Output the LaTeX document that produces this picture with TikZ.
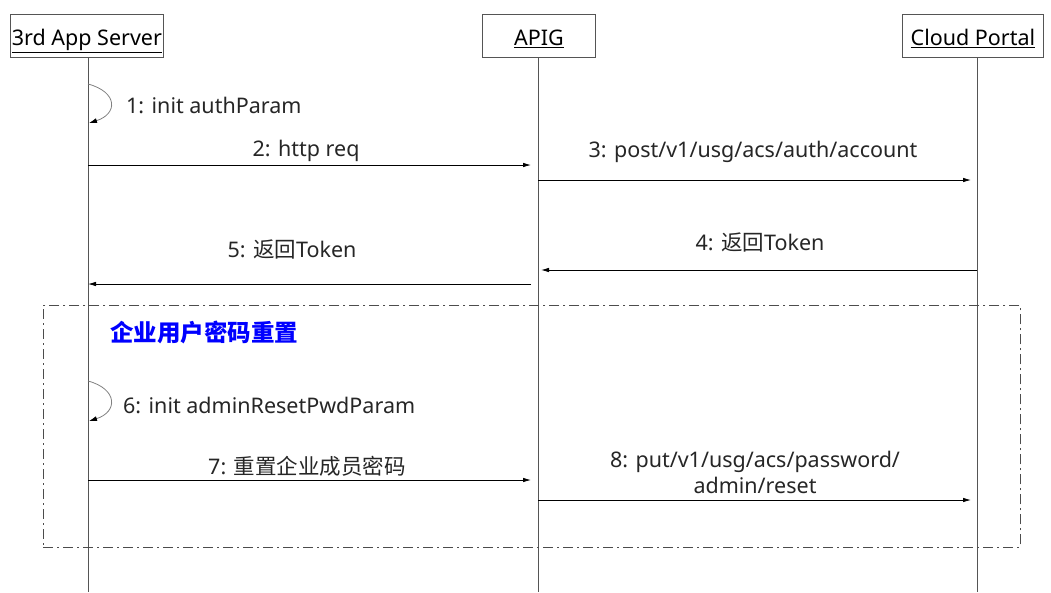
\documentclass[tikz,border=0pt]{standalone}
\usepackage{fontspec}
\setmainfont{Noto Sans}
\newfontfamily\cjk{Noto Sans CJK SC}
\usetikzlibrary{arrows.meta}
\definecolor{lifegray}{HTML}{555555}
\definecolor{zoneblue}{HTML}{0000FF}
\tikzset{
  head/.style={draw=lifegray, line width=0.9pt, fill=white, minimum height=43pt, inner sep=0pt, text height=20pt, text depth=1.5pt, font=\fontsize{21.5}{24}\selectfont},
  life/.style={draw=lifegray, line width=0.9pt},
  msg/.style={draw=black, line width=0.8pt, -{Latex[length=8pt,width=4.5pt]}},
  selfmsg/.style={draw=gray, line width=0.8pt, -{Latex[length=8pt,width=5pt,color=black]}},
  lbl/.style={font=\fontsize{21.5}{26}\selectfont, text=black!85, inner sep=1pt},
  zone/.style={draw=black!70, line width=0.9pt, dash pattern=on 10pt off 4pt on 2pt off 4pt},
}
\begin{document}
\begin{tikzpicture}[x=1pt,y=-1pt]
\useasboundingbox (0,0) rectangle (1051,592);
% heads
\node[head, minimum width=153pt, anchor=north west] (a) at (10,14) {\underline{3rd App Server}};
\node[head, minimum width=113pt, anchor=north west] (b) at (482,14) {\underline{APIG}};
\node[head, minimum width=141pt, anchor=north west] (c) at (902,14) {\underline{Cloud Portal}};
% lifeline ends
\coordinate (ae) at (88,592);
\coordinate (be) at (538,592);
\coordinate (ce) at (977,592);
\draw[life] (88,57) -- (ae);
\draw[life] (538,57) -- (be);
\draw[life] (977,57) -- (ce);
% zone
\node[zone, minimum width=977pt, minimum height=242pt, anchor=north west, inner sep=0pt] (z) at (43,305) {};
\node[anchor=west, text=zoneblue, font=\cjk\bfseries\fontsize{23.5}{26}\selectfont, inner sep=0pt] (zl) at (110,332) {企业用户密码重置};
% coordinates
\coordinate (s1a) at (88,84);
\coordinate (s1b) at (89,123);
\coordinate (a2) at (88,165);  \coordinate (b2) at (531,165);
\coordinate (b3) at (538,180); \coordinate (c3) at (971,180);
\coordinate (c4) at (977,270); \coordinate (b4) at (541,270);
\coordinate (b5) at (531,284); \coordinate (a5) at (88,284);
\coordinate (s6a) at (88,381);
\coordinate (s6b) at (89,421);
\coordinate (a7) at (88,480);  \coordinate (b7) at (531,480);
\coordinate (b8) at (538,500); \coordinate (c8) at (971,500);
% messages
\draw[selfmsg] (s1a) .. controls (118,92) and (118,114) .. (s1b);
\node[lbl, anchor=west] (l1) at (125,105) {1: init authParam};
\draw[msg] (a2) -- (b2);
\node[lbl] (l2) at (306,151) {2: http req};
\draw[msg] (b3) -- (c3);
\node[lbl] (l3) at (753,152) {3: post/v1/usg/acs/auth/account};
\draw[msg] (c4) -- (b4);
\node[lbl] (l4) at (760,242) {4: {\cjk 返回}Token};
\draw[msg] (b5) -- (a5);
\node[lbl] (l5) at (292,249) {5: {\cjk 返回}Token};
\draw[selfmsg] (s6a) .. controls (118,389) and (118,412) .. (s6b);
\node[lbl, anchor=west] (l6) at (122,405) {6: init adminResetPwdParam};
\draw[msg] (a7) -- (b7);
\node[lbl] (l7) at (307,466) {7: {\cjk 重置企业成员密码}};
\draw[msg] (b8) -- (c8);
\node[lbl, align=center] (l8) at (755,472) {8: put/v1/usg/acs/password/\\admin/reset};
\end{tikzpicture}
\end{document}
